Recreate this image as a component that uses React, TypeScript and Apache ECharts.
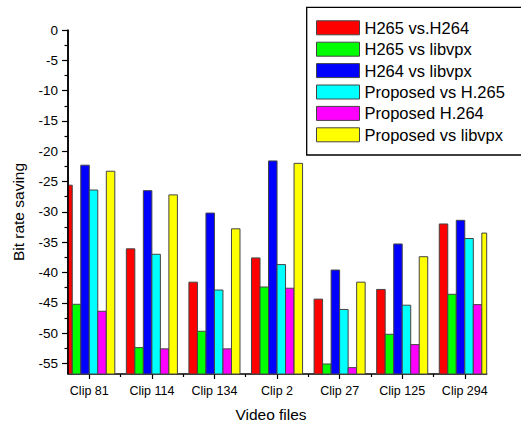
import React, { useEffect, useRef } from "react";
import * as echarts from "echarts";

const categories = ["Clip 81", "Clip 114", "Clip 134", "Clip 2", "Clip 27", "Clip 125", "Clip 294"];
const seriesNames = [
  "H265 vs.H264",
  "H265 vs libvpx",
  "H264 vs libvpx",
  "Proposed vs H.265",
  "Proposed H.264",
  "Proposed vs libvpx",
];
const h265VsH264 = [-25.6, -36.1, -41.6, -37.6, -44.4, -42.8, -32.0];
const h265VsLibvpx = [-45.25, -52.4, -49.7, -42.4, -55.1, -50.2, -43.6];
const h264VsLibvpx = [-22.3, -26.5, -30.2, -21.6, -39.6, -35.3, -31.4];
const proposedVsH265 = [-26.4, -37.0, -42.9, -38.7, -46.1, -45.4, -34.4];
const proposedH264 = [-46.4, -52.6, -52.6, -42.6, -55.7, -51.9, -45.3];
const proposedVsLibvpx = [-23.3, -27.2, -32.8, -22.0, -41.6, -37.4, -33.5];
const seriesValues = [h265VsH264, h265VsLibvpx, h264VsLibvpx, proposedVsH265, proposedH264, proposedVsLibvpx];
const seriesColors = ["#ff0000", "#00ff00", "#0000ff", "#00ffff", "#ff00ff", "#ffff00"];

const yTicks = [0, -5, -10, -15, -20, -25, -30, -35, -40, -45, -50, -55];
const yMinorTicks = [-2.5, -7.5, -12.5, -17.5, -22.5, -27.5, -32.5, -37.5, -42.5, -47.5, -52.5];
const xPositions = [1, 2, 3, 4, 5, 6, 7];
const xMinorTicks = [1.5, 2.5, 3.5, 4.5, 5.5, 6.5];
const yMin = -56.75;
const yMax = 0;
const xMin = 0.66;
const xMax = 7.35;

const FONT = "'Liberation Sans', Arial, sans-serif";
const BAR_FRACTION = 0.136; // each bar's width as a share of one category step

export default function App() {
  const ref = useRef<HTMLDivElement>(null);
  useEffect(() => {
    if (!ref.current) return;
    const chart = echarts.init(ref.current, undefined, { renderer: "svg" });
    const n = seriesNames.length;
    const series: any[] = seriesNames.map((name, i) => ({
      type: "custom",
      name,
      data: xPositions.map((x, j) => [x, seriesValues[i][j]]),
      encode: { x: 0, y: 1 },
      itemStyle: { color: seriesColors[i], borderColor: "#444", borderWidth: 1 },
      renderItem: (params: any, api: any) => {
        const x = api.value(0);
        const v = api.value(1);
        const top = api.coord([x, v]);
        const base = api.coord([x, yMin]);
        const step = api.size([1, 0])[0];
        const w = step * BAR_FRACTION;
        const left = top[0] + (i - n / 2) * w;
        const cs = params.coordSys;
        const rect = echarts.graphic.clipRectByRect(
          { x: left, y: top[1], width: w, height: base[1] - top[1] },
          { x: cs.x, y: cs.y, width: cs.width, height: cs.height }
        );
        if (!rect) return null;
        return {
          type: "rect",
          shape: rect,
          style: { fill: seriesColors[i], stroke: "#444", lineWidth: 1 },
        };
      },
    }));
    chart.setOption({
      animation: false,
      grid: { left: 68, top: 30, right: 34.3, bottom: 51 },
      xAxis: [
        {
          type: "value",
          min: xMin,
          max: xMax,
          position: "bottom",
          axisLine: { show: true, onZero: false, lineStyle: { color: "#000", width: 1.5 } },
          axisTick: { show: true, customValues: xPositions, length: 5, lineStyle: { color: "#000", width: 1.2 } },
          axisLabel: {
            customValues: xPositions,
            formatter: (v: number) => categories[Math.round(v) - 1] ?? "",
            fontSize: 12.5,
            fontFamily: FONT,
            color: "#000",
            margin: 10,
          },
          splitLine: { show: false },
        },
        {
          type: "value",
          min: xMin,
          max: xMax,
          position: "bottom",
          axisLine: { show: false, onZero: false },
          axisTick: { show: true, customValues: xMinorTicks, length: 3, lineStyle: { color: "#000", width: 1.2 } },
          axisLabel: { show: false },
          splitLine: { show: false },
        },
      ],
      yAxis: [
        {
          type: "value",
          min: yMin,
          max: yMax,
          position: "left",
          axisLine: { show: true, onZero: false, lineStyle: { color: "#000", width: 1.5 } },
          axisTick: { show: true, customValues: yTicks, length: 6, lineStyle: { color: "#000", width: 1.2 } },
          axisLabel: { customValues: yTicks, fontSize: 13.5, fontFamily: FONT, color: "#000", margin: 10 },
          splitLine: { show: false },
        },
        {
          type: "value",
          min: yMin,
          max: yMax,
          position: "left",
          axisLine: { show: false, onZero: false },
          axisTick: { show: true, customValues: yMinorTicks, length: 3.5, lineStyle: { color: "#000", width: 1.2 } },
          axisLabel: { show: false },
          splitLine: { show: false },
        },
      ],
      legend: {
        show: true,
        data: seriesNames,
        orient: "vertical",
        left: 306.7,
        top: 7.3,
        itemWidth: 43,
        itemHeight: 14,
        itemGap: 4.4,
        padding: [12, 10, 12, 9.3],
        borderWidth: 0,
        icon: "rect",
        itemStyle: { borderColor: "#444", borderWidth: 1 },
        textStyle: { fontSize: 16.5, fontFamily: FONT, color: "#000", lineHeight: 14 },
      },
      graphic: [
        {
          type: "rect",
          shape: { x: 306.7, y: 7.3, width: 240, height: 147.7 },
          style: { fill: "#fff", stroke: "#000", lineWidth: 1.3 },
          z: 3,
        },
        {
          type: "line",
          shape: { x1: 68, y1: 30, x2: 68, y2: 374 },
          style: { stroke: "#000", lineWidth: 1.5 },
          z: 10,
        },
        {
          type: "text",
          x: 18,
          y: 212,
          rotation: Math.PI / 2,
          style: {
            text: "Bit rate saving",
            fontSize: 15.5,
            fontFamily: FONT,
            fill: "#000",
            align: "center",
            verticalAlign: "middle",
          },
        },
        {
          type: "text",
          x: 271,
          y: 414,
          style: {
            text: "Video files",
            fontSize: 15.5,
            fontFamily: FONT,
            fill: "#000",
            align: "center",
            verticalAlign: "middle",
          },
        },
      ],
      series,
    });
    return () => chart.dispose();
  }, []);
  return (
    <div
      ref={ref}
      style={{ position: "fixed", left: 0, top: 0, width: 521, height: 425, background: "#fff" }}
    />
  );
}
